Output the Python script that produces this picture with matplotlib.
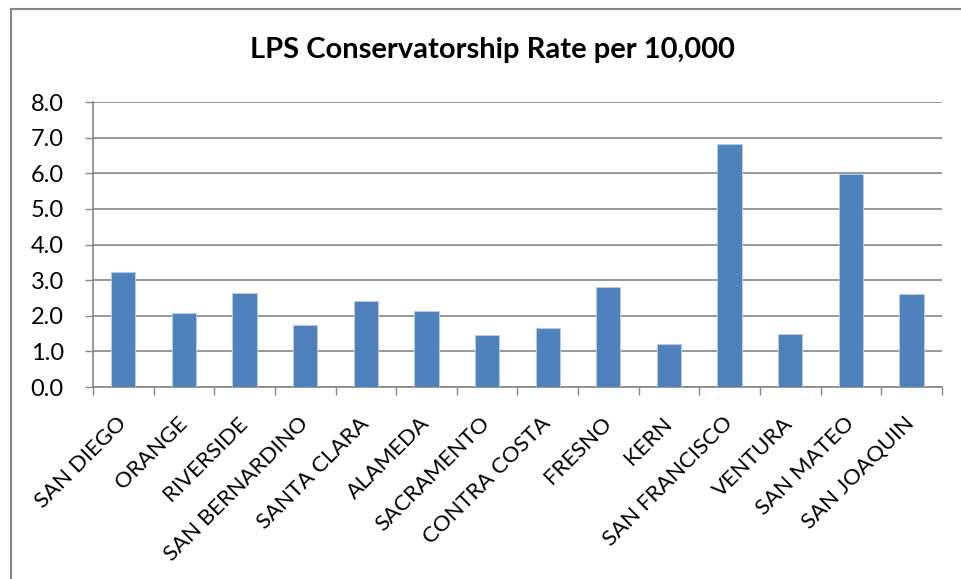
import matplotlib
matplotlib.use("Agg")
import matplotlib.pyplot as plt
from matplotlib.lines import Line2D

counties = ["SAN DIEGO", "ORANGE", "RIVERSIDE", "SAN BERNARDINO", "SANTA CLARA",
            "ALAMEDA", "SACRAMENTO", "CONTRA COSTA", "FRESNO", "KERN",
            "SAN FRANCISCO", "VENTURA", "SAN MATEO", "SAN JOAQUIN"]
rates = [3.23, 2.08, 2.64, 1.75, 2.41, 2.12, 1.45, 1.67, 2.82, 1.21, 6.82, 1.49, 5.99, 2.62]
yticks = [0, 1, 2, 3, 4, 5, 6, 7, 8]

plt.rcParams["font.family"] = ["Lato", "DejaVu Sans"]

fig = plt.figure(figsize=(9.61, 5.79), dpi=100)
ax = fig.add_axes([0.0968, 0.3316, 0.8832, 0.4922])

grey = "#868686"
x = range(len(counties))
ax.bar(x, rates, width=0.4, color="#4F81BD", edgecolor="#B9CDE5", linewidth=0.6, zorder=3)

ax.set_xlim(-0.5, len(counties) - 0.5)
ax.set_ylim(0, 8)
ax.set_yticks(yticks)
ax.set_yticklabels(["%.1f" % v for v in yticks], fontsize=17)
ax.yaxis.grid(True, color=grey, linewidth=1.2, zorder=0)

# tick marks sit between categories, labels at the category centres
ax.set_xticks([i + 0.5 for i in range(-1, len(counties))])
ax.set_xticklabels([])
ax.tick_params(axis="x", length=6, color=grey, width=1)
ax.tick_params(axis="y", length=6, color=grey, width=1, pad=15)
ax.set_xticks(list(x), minor=True)
ax.set_xticklabels(counties, minor=True, rotation=45, ha="right", va="center",
                   rotation_mode="anchor", fontsize=16)
ax.tick_params(axis="x", which="minor", length=0, pad=24)

for s in ["top", "right"]:
    ax.spines[s].set_visible(False)
for s in ["left", "bottom"]:
    ax.spines[s].set_color(grey)
    ax.spines[s].set_linewidth(1.2)

fig.text(0.512, 0.913, "LPS Conservatorship Rate per 10,000", ha="center", va="center",
         fontsize=21, fontweight="bold")

fig.add_artist(Line2D([11 / 961, 11 / 961], [0, 1 - 9 / 579], color=grey, linewidth=1.5))
fig.add_artist(Line2D([11 / 961, 1], [1 - 9 / 579, 1 - 9 / 579], color=grey, linewidth=1.5))

fig.savefig("out.png", dpi=100)
